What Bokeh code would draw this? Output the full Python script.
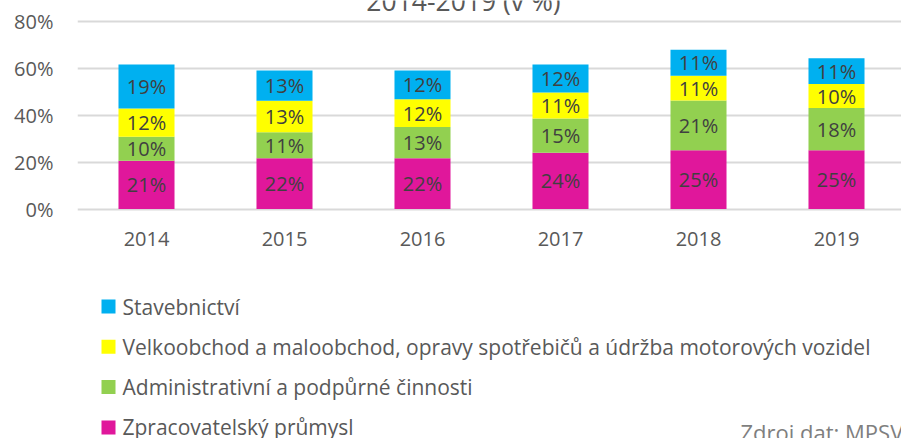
from bokeh.plotting import figure
from bokeh.models import ColumnDataSource, Range1d, FixedTicker, PrintfTickFormatter
from bokeh.core.properties import value
from bokeh.embed import file_html
from bokeh.resources import INLINE
import numpy as np

# ---- data ----
years = [2014, 2015, 2016, 2017, 2018, 2019]
zpracovatelsky = [20.6, 21.6, 21.6, 24.0, 25.0, 25.0]
administrativni = [10.2, 11.1, 13.3, 14.6, 21.2, 18.0]
velkoobchod = [12.0, 13.4, 11.9, 11.0, 10.6, 10.2]
stavebnictvi = [18.8, 12.9, 12.2, 12.0, 11.0, 11.0]
series_names = ["Zpracovatelský průmysl",
                "Administrativní a podpůrné činnosti",
                "Velkoobchod a maloobchod, opravy spotřebičů a údržba motorových vozidel",
                "Stavebnictví"]
colors = ["#e0179b", "#92d050", "#ffff00", "#00b0f0"]
y_ticks = [0, 20, 40, 60, 80]
title_text = "2014-2019 (v %)"
source_text = "Zdroj dat: MPSV"

# ---- layout constants (pixels) ----
W, H = 901, 438
FRAME_LEFT = 77
PX_PER_YEAR = 138
Y0_PX = 208.5          # pixel row of 0 %
PX_PER_PCT = 2.3475

def xdata(px):
    return years[0] - 0.5 + (px - FRAME_LEFT) / PX_PER_YEAR

def ydata(py):
    return (Y0_PX - py) / PX_PER_PCT

FONT = "Open Sans"
series = [zpracovatelsky, administrativni, velkoobchod, stavebnictvi]
keys = ["s0", "s1", "s2", "s3"]
data = {"year": years}
for k, s in zip(keys, series):
    data[k] = s
src = ColumnDataSource(data)

p = figure(width=W, height=H, output_backend="svg", toolbar_location=None,
           x_range=Range1d(xdata(FRAME_LEFT), xdata(W)), y_range=Range1d(ydata(H), ydata(0)),
           min_border_left=FRAME_LEFT, min_border_right=0, min_border_top=0, min_border_bottom=0)
p.outline_line_color = None
p.background_fill_color = "white"
p.border_fill_color = "white"

renderers = p.vbar_stack(keys, x="year", width=0.406, color=colors, line_color=None, source=src)

# segment labels
arr = np.array(series)
tops = np.cumsum(arr, axis=0)
mids = tops - arr / 2.0
lx, ly, lt = [], [], []
for i in range(arr.shape[0]):
    for j, yr in enumerate(years):
        lx.append(yr)
        ly.append(mids[i, j])
        lt.append(f"{int(round(arr[i, j]))}%")
p.text(x=lx, y=ly, text=lt, text_align="center", text_baseline="middle",
       text_font=value(FONT), text_font_size="20px", text_color="#404040")

# grid
p.xgrid.visible = False
p.ygrid.ticker = FixedTicker(ticks=y_ticks)
p.ygrid.grid_line_color = "#d9d9d9"
p.ygrid.grid_line_width = 2

# axes
for ax in (p.xaxis[0], p.yaxis[0]):
    ax.axis_line_color = None
    ax.major_tick_line_color = None
    ax.minor_tick_line_color = None
    ax.major_label_text_font = FONT
    ax.major_label_text_font_size = "20px"
    ax.major_label_text_color = "#595959"
p.xaxis.ticker = FixedTicker(ticks=years)
p.xaxis.fixed_location = 0
p.xaxis.major_label_standoff = 17
p.yaxis.ticker = FixedTicker(ticks=y_ticks)
p.yaxis.formatter = PrintfTickFormatter(format="%d%%")
p.yaxis.major_label_standoff = 18

# legend (drawn below the bars, top to bottom)
order = [3, 2, 1, 0]
leg_y = [ydata(306 + k * 40.3) for k in range(len(order))]
p.scatter(x=[xdata(108)] * len(order), y=leg_y, marker="square", size=14,
          fill_color=[colors[i] for i in order], line_color=None)
p.text(x=[xdata(122)] * len(order), y=leg_y, text=[series_names[i] for i in order],
       text_align="left", text_baseline="middle", text_font=value(FONT),
       text_font_size="21px", text_color="#595959")

# title (partly cut off at top) and source note
p.text(x=[xdata(463)], y=[ydata(0.2)], text=[title_text], text_align="center",
       text_baseline="middle", text_font=value(FONT), text_font_size="26.5px",
       text_color="#595959")
p.text(x=[xdata(740)], y=[ydata(431.5)], text=[source_text], text_align="left",
       text_baseline="middle", text_font=value(FONT), text_font_size="22px",
       text_color="#7f7f7f")

open("out.html", "w").write(file_html(p, INLINE))
